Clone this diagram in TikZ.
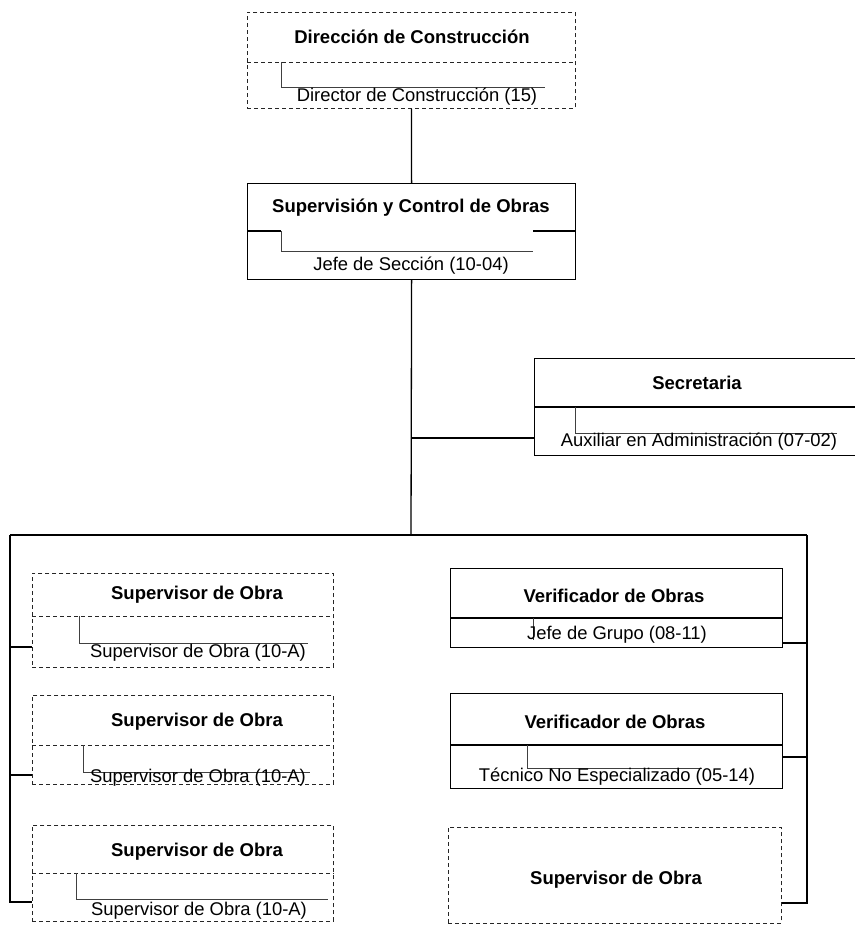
\documentclass[tikz,border=0pt]{standalone}
\usepackage{fontspec}
\setmainfont{Liberation Sans}
\usetikzlibrary{calc}
\tikzset{
  box/.style={draw,line width=1.2pt,anchor=north west,inner sep=0pt},
  dashbox/.style={draw,line width=0.8pt,black!85,dash pattern=on 4pt off 3pt,anchor=north west,inner sep=0pt},
  title/.style={font=\fontsize{18.5}{21}\selectfont\bfseries},
  sub/.style={font=\fontsize{18.4}{21}\selectfont},
  tick/.style={line width=0.6pt,black!75},
  link/.style={line width=1.3pt}
}
\begin{document}
\begin{tikzpicture}[x=1pt,y=-1pt]
  \useasboundingbox (0,0) rectangle (854,925);
  % boxes
  \node[dashbox,minimum width=328pt,minimum height=96pt] (dir) at (247,12) {};
  \node[box,minimum width=328pt,minimum height=96pt] (sup) at (247,183) {};
  \node[box,minimum width=330pt,minimum height=97pt] (sec) at (534,358) {};
  \node[dashbox,minimum width=301pt,minimum height=94pt] (so1) at (32,573) {};
  \node[dashbox,minimum width=301pt,minimum height=89pt] (so2) at (32,695) {};
  \node[dashbox,minimum width=301pt,minimum height=96pt] (so3) at (32,825) {};
  \node[box,minimum width=332pt,minimum height=79pt] (ver1) at (450,568) {};
  \node[box,minimum width=332pt,minimum height=95pt] (ver2) at (450,693) {};
  \node[dashbox,minimum width=333pt,minimum height=96pt] (so4) at (448,827) {};
  % dividers
  \draw[dashbox] (dir.west |- 0,62) -- (dir.east |- 0,62);
  \draw[line width=1.2pt] (sup.west |- 0,231) -- (281,231) (533,231) -- (sup.east |- 0,231);
  \draw[line width=1.2pt] (sec.west |- 0,407) -- (sec.east |- 0,407);
  \draw[dashbox] (so1.west |- 0,616) -- (so1.east |- 0,616);
  \draw[dashbox] (so2.west |- 0,745) -- (so2.east |- 0,745);
  \draw[dashbox] (so3.west |- 0,873) -- (so3.east |- 0,873);
  \draw[line width=1.2pt] (ver1.west |- 0,618) -- (ver1.east |- 0,618);
  \draw[line width=1.2pt] (ver2.west |- 0,745) -- (ver2.east |- 0,745);
  % ticks
  \draw[tick] (281,62) -- (281,87) -- (545,87);
  \draw[tick] (281,231) -- (281,251) -- (533,251);
  \draw[tick] (575,407) -- (575,433) -- (837,433);
  \draw[tick] (79,616) -- (79,643) -- (308,643);
  \draw[tick] (83,745) -- (83,772) -- (310,772);
  \draw[tick] (76,873) -- (76,899) -- (328,899);
  \draw[tick] (533,618) -- (533,640);
  \draw[tick] (527,745) -- (527,768) -- (702,768);
  % texts
  \node[title] (dirT) at (412,37) {Dirección de Construcción};
  \node[sub] (dirS) at (417,97) {Director de Construcción (15)};
  \node[title] (supT) at (411,208) {Supervisión y Control de Obras};
  \node[sub] (supS) at (411,266) {Jefe de Sección (10-04)};
  \node[title] (secT) at (697,383) {Secretaria};
  \node[sub] (secS) at (699,442) {Auxiliar en Administración (07-02)};
  \node[title] (so1T) at (197,595) {Supervisor de Obra};
  \node[sub] (so1S) at (198,653) {Supervisor de Obra (10-A)};
  \node[title] (so2T) at (197,722) {Supervisor de Obra};
  \node[sub] (so2S) at (198,778) {Supervisor de Obra (10-A)};
  \node[title] (so3T) at (197,852) {Supervisor de Obra};
  \node[sub] (so3S) at (199,911) {Supervisor de Obra (10-A)};
  \node[title] (ver1T) at (614,596) {Verificador de Obras};
  \node[sub] (ver1S) at (617,635) {Jefe de Grupo (08-11)};
  \node[title] (ver2T) at (615,722) {Verificador de Obras};
  \node[sub] (ver2S) at (617,777) {Técnico No Especializado (05-14)};
  \node[title] (so4T) at (616,880) {Supervisor de Obra};
  % connectors
  \coordinate (jsec) at (411,438);
  \coordinate (bus) at (411,535);
  \coordinate (bl) at (10,535);
  \coordinate (br) at (807,535);
  \coordinate (l1) at (10,647);
  \coordinate (l2) at (10,775);
  \coordinate (l3) at (10,902);
  \coordinate (r1) at (807,643);
  \coordinate (r2) at (807,757);
  \coordinate (r3) at (807,903);
  \draw[link] (dir.south) -- (sup.north);
  \draw[link] (sup.south) -- (bus);
  \draw[link] (jsec) -- (jsec -| sec.west);
  \draw[link] (bl) -- (br);
  \draw[link] (bl) -- (l3) -- (l3 -| so3.west);
  \draw[link] (l1) -- (l1 -| so1.west);
  \draw[link] (l2) -- (l2 -| so2.west);
  \draw[link] (br) -- (r3) -- (r3 -| so4.east);
  \draw[link] (r1) -- (r1 -| ver1.east);
  \draw[link] (r2) -- (r2 -| ver2.east);
\end{tikzpicture}
\end{document}
